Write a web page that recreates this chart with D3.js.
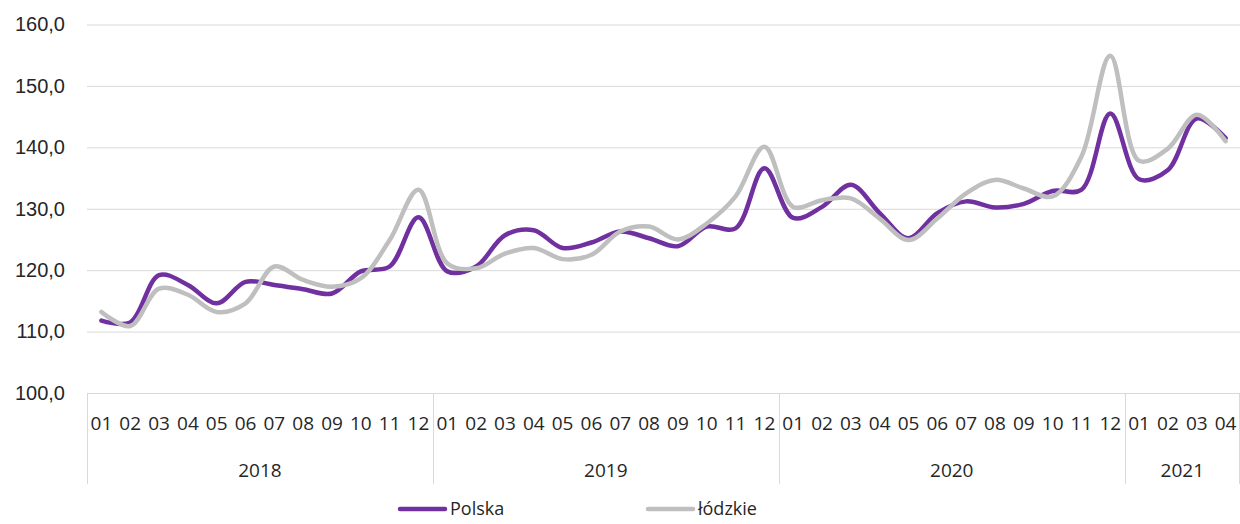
<!DOCTYPE html>
<html>
<head>
<meta charset="utf-8">
<script src="https://cdn.jsdelivr.net/npm/d3@7"></script>
<style>
  body { margin: 0; background: #fff; }
  svg { display: block; font-family: "Open Sans", "Noto Sans", sans-serif; }
  .grid line { stroke: #d9d9d9; stroke-width: 1; }
  .grid path { display: none; }
  .grid text { fill: #262626; font-size: 20px; }
</style>
</head>
<body>
<div id="chart"></div>
<script>
let years = ['2018', '2019', '2020', '2021'];
let monthsPerYear = [12, 12, 12, 4];
let yTicks = [100, 110, 120, 130, 140, 150, 160];

let polska = [
    111.8, 111.5, 119.2, 117.6, 114.6, 118.1, 117.6, 116.9, 116.2, 119.8, 120.6, 128.6,
    119.8, 120.6, 125.7, 126.5, 123.6, 124.5, 126.3, 125.2, 123.9, 127.1, 126.8, 136.6,
    128.5, 130.3, 133.9, 129.3, 125.2, 129.3, 131.2, 130.2, 130.8, 132.9, 133.1, 145.5,
    134.8, 136.3, 144.7, 141.5
];
let lodzkie = [
    113.2, 110.9, 117.0, 116.0, 113.2, 114.6, 120.6, 118.4, 117.3, 118.7, 124.9, 133.1,
    121.1, 120.3, 122.7, 123.6, 121.8, 122.5, 126.3, 127.1, 125.0, 127.6, 132.0, 140.1,
    130.3, 131.4, 131.7, 128.4, 124.9, 128.4, 132.5, 134.7, 133.3, 132.0, 138.5, 154.9,
    137.8, 139.8, 145.3, 141.0
];

let series = [
    { name: 'Polska', values: polska, color: '#7030a0' },
    { name: 'łódzkie', values: lodzkie, color: '#bfbfbf' }
];

var width = 1240,
    height = 524,
    plotLeft = 87,
    plotRight = 1240,
    plotTop = 24.5,
    plotBottom = 393;

// one key per month, e.g. 2018-01
let keys = [];
years.forEach(function(yr, i) {
    for (let m = 1; m <= monthsPerYear[i]; m++) {
        keys.push(yr + '-' + String(m).padStart(2, '0'));
    }
});

var x = d3.scaleBand().domain(keys).range([plotLeft, plotRight]);
var y = d3.scaleLinear().domain([100, 160]).range([plotBottom, plotTop]);

var svg = d3
    .select('#chart')
    .append('svg')
    .attr('width', width)
    .attr('height', height);

svg
    .append('g')
    .attr('class', 'grid')
    .attr('transform', `translate(${plotLeft},0)`)
    .call(
        d3.axisLeft(y)
            .tickValues(yTicks)
            .tickSize(-(plotRight - plotLeft))
            .tickPadding(22)
            .tickFormat(function(d) { return d.toFixed(1).replace('.', ','); })
    );

// category axis: month labels, year labels and separators
var axisG = svg.append('g').attr('class', 'cat-axis');

axisG
    .selectAll('text.month')
    .data(keys)
    .enter()
    .append('text')
    .attr('class', 'month')
    .attr('x', function(d) { return x(d) + x.bandwidth() / 2; })
    .attr('y', 430)
    .attr('text-anchor', 'middle')
    .attr('fill', '#262626')
    .style('font-size', '19px')
    .text(function(d) { return d.slice(5); });

let yearStart = [];
let acc = 0;
monthsPerYear.forEach(function(n) { yearStart.push(acc); acc += n; });

axisG
    .selectAll('text.year')
    .data(years)
    .enter()
    .append('text')
    .attr('class', 'year')
    .attr('x', function(d, i) {
        let a = x(keys[yearStart[i]]);
        let b = x(keys[yearStart[i] + monthsPerYear[i] - 1]) + x.bandwidth();
        return (a + b) / 2;
    })
    .attr('y', 477)
    .attr('text-anchor', 'middle')
    .attr('fill', '#262626')
    .style('font-size', '19px')
    .text(function(d) { return d; });

let separators = yearStart.map(function(s) { return x(keys[s]); }).concat([plotRight - 1]);
axisG
    .selectAll('line.sep')
    .data(separators)
    .enter()
    .append('line')
    .attr('class', 'sep')
    .attr('x1', function(d) { return Math.round(d) + 0.5; })
    .attr('x2', function(d) { return Math.round(d) + 0.5; })
    .attr('y1', plotBottom)
    .attr('y2', 484)
    .attr('stroke', '#d9d9d9')
    .attr('stroke-width', 1);

// smoothed lines, grey drawn over purple as in the reference
var line = d3.line()
    .x(function(d, i) { return x(keys[i]) + x.bandwidth() / 2; })
    .y(function(d) { return y(d); })
    .curve(d3.curveCatmullRom.alpha(0.5));

svg
    .selectAll('path.series')
    .data(series)
    .enter()
    .append('path')
    .attr('class', 'series')
    .attr('d', function(s) { return line(s.values); })
    .attr('fill', 'none')
    .attr('stroke', function(s) { return s.color; })
    .attr('stroke-width', 4.5)
    .attr('stroke-linejoin', 'round')
    .attr('stroke-linecap', 'round');

// legend
let legendX = [400, 648];
var legend = svg
    .selectAll('g.legend')
    .data(series)
    .enter()
    .append('g')
    .attr('class', 'legend')
    .attr('transform', function(d, i) { return `translate(${legendX[i]},509)`; });

legend
    .append('line')
    .attr('x1', 0)
    .attr('x2', 45)
    .attr('stroke', function(d) { return d.color; })
    .attr('stroke-width', 4.5)
    .attr('stroke-linecap', 'round');

legend
    .append('text')
    .attr('x', 50)
    .attr('y', 0)
    .attr('dy', '0.35em')
    .attr('fill', '#262626')
    .style('font-size', '18px')
    .text(function(d) { return d.name; });
</script>
</body>
</html>
